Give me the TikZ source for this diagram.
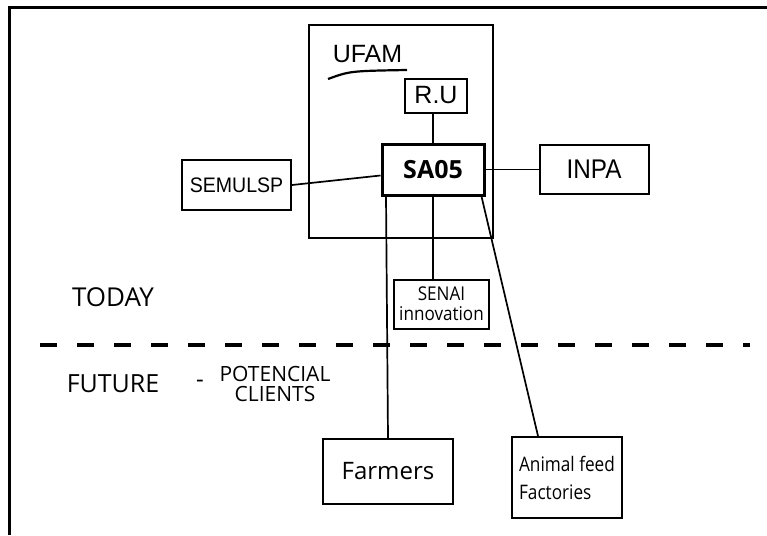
\documentclass[tikz,border=0pt]{standalone}
\usepackage{fontspec}
\setmainfont{Liberation Sans}
\newfontfamily\segoe{Open Sans}
\usetikzlibrary{positioning}

\begin{document}
\begin{tikzpicture}[x=1pt,y=-1pt,
    box/.style={draw,line width=2pt,inner sep=0pt,align=center},
    link/.style={line width=1.7pt},
    fs/.style={font=\fontsize{#1}{#1}\selectfont}]
  \useasboundingbox (0,0) rectangle (767,535);
  % frame
  \draw[line width=3pt] (9,535) -- (9,7.5) -- (767,7.5);
  % UFAM
  \node[box,minimum width=184pt,minimum height=213pt] (ufam) at (401,131.5) {};
  \node[fs=25] (ufamlbl) at (367.5,54) {UFAM};
  \draw[line width=2.2pt] (328,79) .. controls (350,71) .. (407,70);
  \node[box,fs=25,line width=3pt,minimum width=102pt,minimum height=51pt] (sa) at (433,169.5) {\segoe\bfseries SA05};
  \node[box,fs=25,minimum width=62pt,minimum height=34pt] (ru) [above=29pt of sa,xshift=3pt] {R.U};
  \node[box,fs=21,minimum width=109pt,minimum height=50pt] (semulsp) at (236.5,185) {\scalebox{0.93}[1]{SEMULSP}};
  \node[box,fs=27,minimum width=109pt,minimum height=49pt] (inpa) [right=53pt of sa] {\scalebox{0.9}[1]{INPA}};
  \node[box,fs=19,minimum width=95pt,minimum height=49pt] (senai) [below=82pt of sa,xshift=8.5pt] {\segoe\scalebox{0.9}[1]{SENAI}\\[1pt]\segoe\scalebox{0.9}[1]{innovation}};
  % future
  \node[box,fs=24,minimum width=130pt,minimum height=65pt] (farmers) at (388,471.5) {\segoe Farmers};
  \node[box,fs=20,minimum width=110pt,minimum height=81pt,align=left] (feed) at (567,477.5) {\segoe\scalebox{0.86}[1]{Animal feed}\\[8pt]\segoe\scalebox{0.86}[1]{Factories}};
  % labels
  \node[fs=26] (today) at (113,297) {\segoe TODAY};
  \node[fs=25] (future) at (113,384) {\segoe FUTURE};
  \node[fs=24] (dash) at (200,384) {\segoe -};
  \node[fs=21,align=center] (clients) at (275,384) {\segoe POTENCIAL\\[-1pt]\segoe CLIENTS};
  \coordinate (lineL) at (40,345);
  \coordinate (lineR) at (750,345);
  \draw[line width=4pt,dash pattern=on 17pt off 20pt] (lineL) -- (lineR);
  % connectors
  \draw[link] (sa.north) -- (sa.north |- ru.south);
  \draw[link] (semulsp.east) -- ([yshift=-6pt]sa.west);
  \draw[link] (sa.east) -- (inpa.west);
  \draw[link] (sa.south) -- (sa.south |- senai.north);
  \draw[link] ([xshift=-47pt]sa.south) -- (farmers.north);
  \draw[link] ([xshift=-4pt]sa.south east) -- ([xshift=-29pt]feed.north);
\end{tikzpicture}
\end{document}
